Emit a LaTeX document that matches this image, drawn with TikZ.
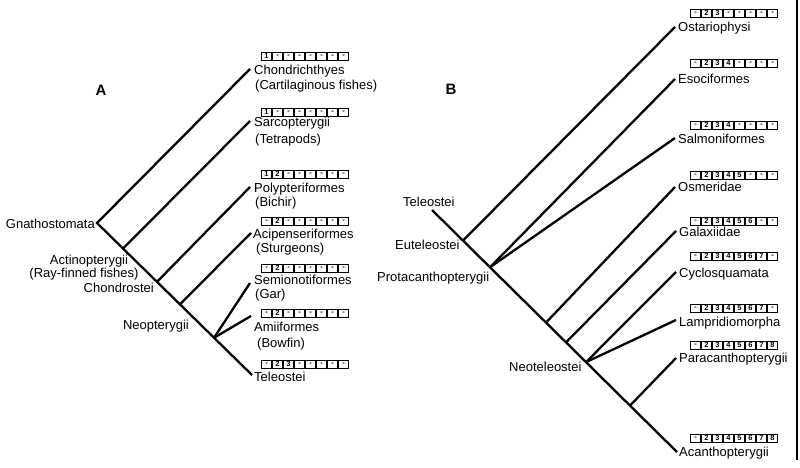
\documentclass[tikz,border=0pt]{standalone}
\usepackage{fontspec}
\setmainfont{Liberation Sans}
\usetikzlibrary{calc}
\tikzset{
 branch/.style={line width=2.3pt},
 lbl/.style={font=\fontsize{13}{15}\selectfont, inner sep=0pt, anchor=base west},
 lblr/.style={lbl, anchor=base east},
 lblc/.style={lbl, anchor=base},
 cell/.style={draw, line width=0.8pt, minimum width=10pt, minimum height=8.5pt, inner sep=0pt, font=\fontsize{7.5}{7.5}\selectfont\bfseries},
 panel/.style={font=\fontsize{15}{15}\selectfont\bfseries, inner sep=0pt}
}
\newcommand\cellrow[4]{%
 \foreach \c [count=\i] in {#4} {\node[cell, name=#3-\i] at ({#1+(\i-1)*11+5.5},{#2+4.25}) {\c};}}
\begin{document}
\begin{tikzpicture}[x=1pt,y=-1pt]
\useasboundingbox (0,0) rectangle (800,468);

% ---------- panel A ----------
\node[panel] (pA) at (101,90) {A};
\coordinate (lroot) at (97,223);
\coordinate (lTel) at (252,375);
\coordinate (lChon) at (250,69);
\coordinate (lSar) at (250,121);
\coordinate (lPol) at (250,187);
\coordinate (lAci) at (251,233);
\coordinate (lSem) at (250,283);
\coordinate (lAmi) at (251,316);
\coordinate (nSar) at ($(lroot)!0.168!(lTel)$);
\coordinate (nPol) at ($(lroot)!0.387!(lTel)$);
\coordinate (nAci) at ($(lroot)!0.535!(lTel)$);
\coordinate (nNeo) at ($(lroot)!0.755!(lTel)$);
\draw[branch] (lChon) -- (lroot) -- (lTel);
\draw[branch] (nSar) -- (lSar);
\draw[branch] (nPol) -- (lPol);
\draw[branch] (nAci) -- (lAci);
\draw[branch] (nNeo) -- (lSem);
\draw[branch] (nNeo) -- (lAmi);

\node[lblr] (tGna) at (95,228) {Gnathostomata};
\node[lblc] (tAct) at (89,264) {Actinopterygii};
\node[lblc] (tAct2) at (84,277) {(Ray-finned fishes)};
\node[lblr] (tChd) at (154,292) {Chondrostei};
\node[lblr] (tNeo) at (189,329) {Neopterygii};

\node[lbl] (xChon) at (254,75) {Chondrichthyes};
\node[lbl] (xChon2) at (255,90) {(Cartilaginous fishes)};
\node[lbl] (xSar) at (254,127) {Sarcopterygii};
\node[lbl] (xSar2) at (255,143) {(Tetrapods)};
\node[lbl] (xPol) at (254,192) {Polypteriformes};
\node[lbl] (xPol2) at (255,206) {(Bichir)};
\node[lbl] (xAci) at (253,238) {Acipenseriformes};
\node[lbl] (xAci2) at (256,252) {(Sturgeons)};
\node[lbl] (xSem) at (254,284) {Semionotiformes};
\node[lbl] (xSem2) at (255,298) {(Gar)};
\node[lbl] (xAmi) at (254,331) {Amiiformes};
\node[lbl] (xAmi2) at (257,347) {(Bowfin)};
\node[lbl] (xTel) at (254,381) {Teleostei};

\cellrow{261}{52}{cChon}{1,-,-,-,-,-,-,-}
\cellrow{261}{108}{cSar}{1,-,-,-,-,-,-,-}
\cellrow{261}{170}{cPol}{1,2,-,-,-,-,-,-}
\cellrow{261}{217}{cAci}{-,2,-,-,-,-,-,-}
\cellrow{261}{264}{cSem}{-,2,-,-,-,-,-,-}
\cellrow{261}{309}{cAmi}{-,2,-,-,-,-,-,-}
\cellrow{261}{360}{cTel}{-,2,3,-,-,-,-,-}

% ---------- panel B ----------
\node[panel] (pB) at (451,89) {B};
\coordinate (rtop) at (432,210);
\coordinate (rAca) at (677,452);
\coordinate (rOst) at (675,27);
\coordinate (rEso) at (675,79);
\coordinate (rSal) at (675,138);
\coordinate (rOsm) at (675,187);
\coordinate (rGal) at (676,231);
\coordinate (rCyc) at (676,272);
\coordinate (rLam) at (676,320);
\coordinate (rPar) at (676,358);
\coordinate (nEut) at ($(rtop)!0.1265!(rAca)$);
\coordinate (nPro) at ($(rtop)!0.2367!(rAca)$);
\coordinate (nOsm) at ($(rtop)!0.4653!(rAca)$);
\coordinate (nGal) at ($(rtop)!0.547!(rAca)$);
\coordinate (nNeot) at ($(rtop)!0.6286!(rAca)$);
\coordinate (nPar) at ($(rtop)!0.8082!(rAca)$);
\draw[branch] (rtop) -- (rAca);
\draw[branch] (nEut) -- (rOst);
\draw[branch] (nPro) -- (rEso);
\draw[branch] (nPro) -- (rSal);
\draw[branch] (nOsm) -- (rOsm);
\draw[branch] (nGal) -- (rGal);
\draw[branch] (nNeot) -- (rCyc);
\draw[branch] (nNeot) -- (rLam);
\draw[branch] (nPar) -- (rPar);

\node[lbl] (tTel) at (403,206) {Teleostei};
\node[lbl] (tEut) at (395,249) {Euteleostei};
\node[lbl] (tPro) at (377,281) {Protacanthopterygii};
\node[lbl] (tNeot) at (509,371) {Neoteleostei};

\node[lbl] (xOst) at (678,32) {Ostariophysi};
\node[lbl] (xEso) at (678,84) {Esociformes};
\node[lbl] (xSal) at (678,143) {Salmoniformes};
\node[lbl] (xOsm) at (678,191) {Osmeridae};
\node[lbl] (xGal) at (679,236) {Galaxiidae};
\node[lbl] (xCyc) at (679,277) {Cyclosquamata};
\node[lbl] (xLam) at (679,326) {Lampridiomorpha};
\node[lbl] (xPar) at (679,362) {Paracanthopterygii};
\node[lbl] (xAca) at (679,456) {Acanthopterygii};

\cellrow{690}{9}{cOst}{-,2,3,-,-,-,-,-}
\cellrow{690}{59}{cEso}{-,2,3,4,-,-,-,-}
\cellrow{690}{121}{cSal}{-,2,3,4,-,-,-,-}
\cellrow{690}{171}{cOsm}{-,2,3,4,5,-,-,-}
\cellrow{690}{217}{cGal}{-,2,3,4,5,6,-,-}
\cellrow{690}{252}{cCyc}{-,2,3,4,5,6,7,-}
\cellrow{690}{304}{cLam}{-,2,3,4,5,6,7,-}
\cellrow{690}{341}{cPar}{-,2,3,4,5,6,7,8}
\cellrow{690}{434}{cAca}{-,2,3,4,5,6,7,8}

% right edge rule
\coordinate (eTop) at (797,0);
\coordinate (eBot) at (797,460);
\draw[line width=2.5pt] (eTop) -- (eBot);
\end{tikzpicture}
\end{document}
